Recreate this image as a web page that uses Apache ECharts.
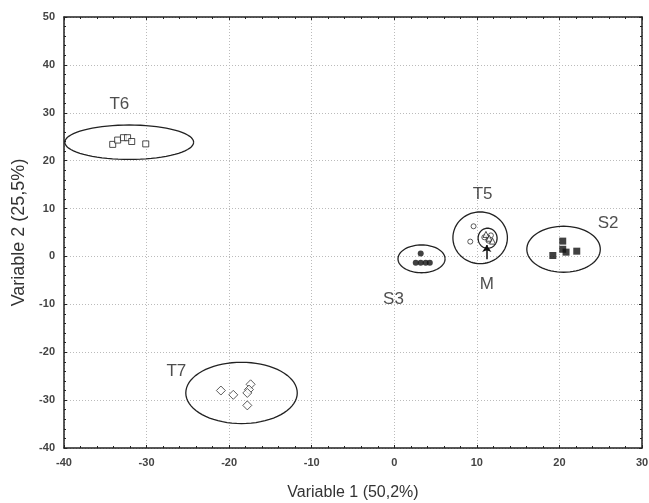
<!DOCTYPE html>
<html><head><meta charset="utf-8">
<script src="https://cdn.jsdelivr.net/npm/echarts@6/dist/echarts.min.js"></script>
<style>html,body{margin:0;padding:0;background:#fff}#c{width:649px;height:503px}</style>
</head><body><div id="c"></div>
<script>
// Point data [x, y]
const T6 = [[-34.1,23.4],[-33.5,24.3],[-32.8,24.8],[-32.3,24.8],[-31.8,24.0],[-30.1,23.5]];
const T7 = [[-21.0,-28.0],[-19.5,-28.9],[-17.4,-26.7],[-17.6,-27.8],[-17.8,-28.5],[-17.8,-31.1]];
const S3 = [[3.2,0.6],[2.6,-1.3],[3.2,-1.3],[3.8,-1.3],[4.3,-1.3]];
const T5 = [[9.6,6.3],[9.2,3.1],[10.9,4.0],[11.4,3.3],[11.7,4.4]];
const Mpts = [[11.1,4.6],[11.5,3.8],[11.9,3.2]];
const S2 = [[20.4,3.2],[19.2,0.2],[20.4,1.5],[20.8,0.9],[22.1,1.1]];
// Ellipses: [cx, cy, rx, ry]
const ellipses = [
  [-32.1,23.85,7.8,3.6],
  [-18.5,-28.5,6.75,6.4],
  [3.3,-0.5,2.85,2.9],
  [10.4,3.9,3.3,5.4],
  [11.3,3.8,1.15,2.1],
  [20.5,1.5,4.45,4.8]
];
// Group labels
const labelNames = ['T6','T7','S3','T5','S2','M'];
const labelPos = [[-33.3,31.8],[-26.4,-24.0],[-0.1,-9.0],[10.7,13.0],[25.9,6.9],[11.2,-5.8]];
// Arrow for M
const arrow = [[11.2,-0.6],[11.2,2.4]];

const xTicks = {min:-40,max:30,interval:10};
const yTicks = {min:-40,max:50,interval:10};

const chart = echarts.init(document.getElementById('c'), null, {renderer:'canvas'});
const FF = 'Liberation Sans, Arial, sans-serif';
const lblFont = {fontFamily:FF, fontSize:11, fontWeight:'bold', color:'#444'};
const gridLine = {show:true, lineStyle:{color:'#bbb', type:[1,2], width:1}};
const axLine = {show:true, onZero:false, lineStyle:{color:'#222', width:1.5}};
const tick = {show:true, inside:true, length:3, lineStyle:{color:'#222'}};
const minor = {show:true, splitNumber:5, length:2, lineStyle:{color:'#222'}};

function ellipseItem(params, api){
  const cx = api.value(0), cy = api.value(1), rx = api.value(2), ry = api.value(3);
  const pts = [];
  for(let i=0;i<=72;i++){
    const t = i/72*Math.PI*2;
    pts.push(api.coord([cx+rx*Math.cos(t), cy+ry*Math.sin(t)]));
  }
  return {type:'polyline', shape:{points:pts}, style:{stroke:'#222', lineWidth:1.3, fill:null}};
}

chart.setOption({
  animation:false,
  backgroundColor:'#fff',
  grid:{left:64, right:7, top:17, bottom:55, containLabel:false, outerBoundsMode:'none'},
  xAxis:[
    {type:'value', min:xTicks.min, max:xTicks.max, interval:xTicks.interval, position:'bottom',
     axisLine:axLine, axisTick:tick, minorTick:minor, splitLine:gridLine,
     axisLabel:Object.assign({margin:9}, lblFont),
     name:'Variable 1 (50,2%)', nameLocation:'middle', nameGap:37,
     nameTextStyle:{fontFamily:FF, fontSize:16, color:'#333'}},
    {type:'value', min:xTicks.min, max:xTicks.max, interval:xTicks.interval, position:'top',
     axisLine:axLine, axisTick:tick, minorTick:minor, splitLine:{show:false}, axisLabel:{show:false}}
  ],
  yAxis:[
    {type:'value', min:yTicks.min, max:yTicks.max, interval:yTicks.interval, position:'left',
     axisLine:axLine, axisTick:tick, minorTick:minor, splitLine:gridLine,
     axisLabel:Object.assign({margin:9}, lblFont),
     name:'Variable 2 (25,5%)', nameLocation:'middle', nameGap:36,
     nameTextStyle:{fontFamily:FF, fontSize:18, color:'#333'}},
    {type:'value', min:yTicks.min, max:yTicks.max, interval:yTicks.interval, position:'right',
     axisLine:axLine, axisTick:tick, minorTick:minor, splitLine:{show:false}, axisLabel:{show:false}}
  ],
  series:[
    {type:'custom', renderItem:ellipseItem, data:ellipses, silent:true, clip:true, z:2},
    {type:'scatter', data:T6, symbol:'rect', symbolSize:6,
     itemStyle:{color:'#fff', borderColor:'#222', borderWidth:1}, z:3},
    {type:'scatter', data:T7, symbol:'diamond', symbolSize:9,
     itemStyle:{color:'#fff', borderColor:'#333', borderWidth:1}, z:3},
    {type:'scatter', data:S3, symbol:'circle', symbolSize:6,
     itemStyle:{color:'#111'}, z:3},
    {type:'scatter', data:T5, symbol:'circle', symbolSize:5,
     itemStyle:{color:'#fff', borderColor:'#333', borderWidth:1}, z:3},
    {type:'scatter', data:Mpts, symbol:'triangle', symbolSize:6,
     itemStyle:{color:'#fff', borderColor:'#222', borderWidth:1}, z:3},
    {type:'scatter', data:S2, symbol:'rect', symbolSize:7,
     itemStyle:{color:'#111'}, z:3},
    {type:'lines', coordinateSystem:'cartesian2d', polyline:false,
     data:[{coords:arrow}], symbol:['none','arrow'], symbolSize:7,
     lineStyle:{color:'#111', width:1.5, opacity:1}, z:4},
    {type:'scatter', symbolSize:0, silent:true, z:5,
     data:labelPos.map((p,i)=>({value:p, name:labelNames[i]})),
     label:{show:true, position:'inside', formatter:p=>p.name,
       fontFamily:FF, fontSize:17, color:'#222'}}
  ]
});
</script></body></html>
